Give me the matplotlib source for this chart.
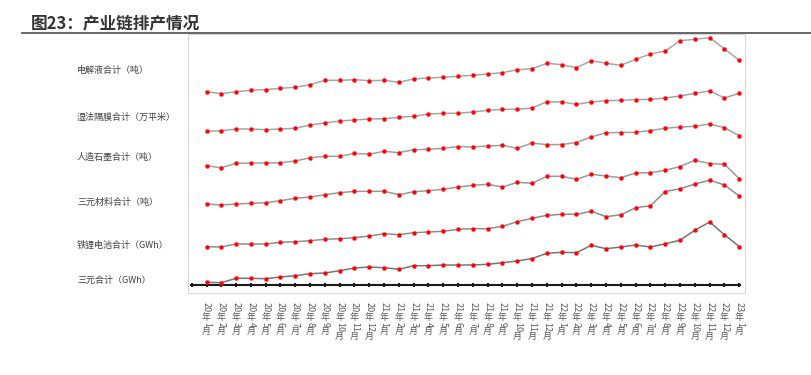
import re
import matplotlib
matplotlib.use("Agg")
import matplotlib.pyplot as plt
from matplotlib.patches import Rectangle
from matplotlib.lines import Line2D

plt.rcParams['font.family'] = ['Noto Sans CJK SC', 'DejaVu Sans']

# month labels on the category axis
months = ["20年1月", "20年2月", "20年3月", "20年4月", "20年5月", "20年6月",
          "20年7月", "20年8月", "20年9月", "20年10月", "20年11月", "20年12月",
          "21年1月", "21年2月", "21年3月", "21年4月", "21年5月", "21年6月",
          "21年7月", "21年8月", "21年9月", "21年10月", "21年11月", "21年12月",
          "22年1月", "22年2月", "22年3月", "22年4月", "22年5月", "22年6月",
          "22年7月", "22年8月", "22年9月", "22年10月", "22年11月", "22年12月",
          "23年1月"]

names = ["电解液合计（吨）", "湿法隔膜合计（万平米）", "人造石墨合计（吨）",
         "三元材料合计（吨）", "铁锂电池合计（GWh）", "三元合计（GWh）"]

# relative levels (each series drawn on a shared hidden axis)
electrolyte = [193.3, 191.3, 193.3, 194.7, 195.3, 196.7, 197.7, 200.3, 204.7, 204.7,
               205.3, 204.3, 204.7, 202.7, 206.0, 207.0, 207.7, 208.7, 209.7, 211.0,
               212.3, 215.3, 216.3, 221.7, 220.3, 217.3, 224.3, 221.7, 219.7, 225.7,
               231.0, 234.0, 244.3, 245.7, 247.3, 236.0, 224.7]
separator = [153.7, 154.3, 156.0, 156.0, 155.3, 156.0, 156.7, 160.0, 162.0, 164.0,
             165.0, 166.0, 166.3, 167.7, 168.7, 171.0, 171.7, 171.7, 173.0, 174.7,
             175.7, 175.7, 177.0, 183.3, 183.0, 180.7, 183.0, 184.3, 184.7, 185.3,
             185.7, 187.0, 189.0, 191.7, 194.0, 187.0, 191.7]
graphite = [119.3, 117.3, 121.7, 122.0, 122.0, 122.3, 124.0, 127.3, 128.7, 128.7,
            131.7, 130.7, 133.7, 132.3, 135.3, 135.7, 136.7, 138.5, 138.0, 139.0,
            139.7, 136.7, 142.0, 140.3, 140.5, 142.5, 148.0, 152.3, 152.5, 152.7,
            154.5, 156.7, 158.0, 158.7, 161.0, 157.3, 149.3]
ncm_material = [81.0, 80.0, 81.0, 81.7, 82.3, 84.3, 86.7, 88.0, 90.3, 92.3,
                93.7, 93.7, 93.7, 90.3, 93.3, 94.3, 95.7, 98.0, 99.7, 100.7,
                98.0, 102.7, 101.7, 108.7, 108.7, 105.7, 110.7, 109.0, 107.3, 112.0,
                112.3, 114.7, 118.5, 124.7, 121.5, 120.7, 106.3]
lfp_cell = [38.3, 38.0, 41.0, 41.0, 41.0, 42.7, 43.3, 44.3, 45.7, 46.3,
            47.3, 49.0, 51.3, 50.3, 52.3, 53.0, 53.7, 55.7, 56.3, 56.3,
            58.7, 63.3, 66.7, 69.7, 70.7, 70.7, 73.7, 68.3, 70.3, 77.3,
            79.3, 93.5, 96.2, 101.0, 104.8, 100.0, 89.0]
ncm_cell = [2.7, 2.3, 6.7, 6.7, 6.3, 8.0, 9.3, 11.3, 12.0, 14.3,
            17.0, 18.0, 17.3, 15.7, 19.3, 19.3, 20.0, 20.0, 20.0, 20.7,
            22.3, 24.0, 26.5, 31.7, 32.7, 32.3, 39.7, 36.3, 38.0, 40.0,
            38.0, 41.2, 44.8, 54.8, 63.0, 50.2, 38.5]

series = [electrolyte, separator, graphite, ncm_material, lfp_cell, ncm_cell]
label_y = [70.7, 117.3, 157.3, 202.3, 245.0, 280.0]   # pixel rows of the left labels
line_colors = ['#a8a8a8', '#a5a5a5', '#a0a0a0', '#9a9a9a', '#8e8e8e', '#767676']

W, H = 811, 375
fig = plt.figure(figsize=(W / 100, H / 100), dpi=100)


def fx(x):
    return x / W


def fy(y):
    return 1 - y / H


# chart frame and title bar
fig.patches.append(Rectangle((fx(188.3), fy(293)), fx(745) - fx(188.3), fy(34) - fy(293),
                             transform=fig.transFigure, fill=False,
                             edgecolor='#d9d9d9', linewidth=0.8))
fig.lines.append(Line2D([fx(22), fx(811)], [fy(32.5), fy(32.5)],
                        transform=fig.transFigure, color='#5a5a5a', linewidth=1.3))
fig.text(fx(31), fy(23.5), "图23：产业链排产情况", fontsize=12, fontweight='bold',
         color='#333333', ha='left', va='center')

ax = fig.add_axes([fx(191.26), fy(285), fx(740.3) - fx(191.26), 252 / H])
ax.set_xlim(-1.03, 36.07)
ax.set_ylim(0, 252)

x = list(range(len(months)))
for vals, col in zip(series, line_colors):
    ax.plot(x, vals, color=col, linewidth=1.1, zorder=2, clip_on=False)
    ax.plot(x, vals, linestyle='none', marker='o', markersize=2.9,
            markerfacecolor='#ff0000', markeredgecolor='#ff2020',
            markeredgewidth=0.3, zorder=3, clip_on=False)

for name, yy in zip(names, label_y):
    fig.text(fx(77), fy(yy), name, fontsize=6.5, color='#404040', ha='left', va='center')

for s in ['top', 'right', 'left']:
    ax.spines[s].set_visible(False)
ax.spines['bottom'].set_color('#1a1a1a')
ax.spines['bottom'].set_linewidth(1.5)
ax.set_yticks([])
ax.set_xticks(range(-1, len(months)))
ax.tick_params(axis='x', direction='inout', length=3.2, width=1.5,
               color='#1a1a1a', labelbottom=False)

# vertical month labels: digits turned, CJK upright
fs = 6.5
for i, lab in enumerate(months):
    cur = -12.6
    for tok in re.findall(r'\d+|\D', lab):
        if tok.isdigit():
            adv = len(tok) * 0.56 * fs
            ax.annotate(tok, xy=(i, 0), xytext=(0, cur - adv / 2), textcoords='offset points',
                        rotation=-90, ha='center', va='center', fontsize=fs,
                        color='#595959', annotation_clip=False)
        else:
            adv = fs * 1.0
            ax.annotate(tok, xy=(i, 0), xytext=(0, cur - adv / 2), textcoords='offset points',
                        ha='center', va='center', fontsize=fs,
                        color='#595959', annotation_clip=False)
        cur -= adv

fig.savefig("out.png", dpi=100)
